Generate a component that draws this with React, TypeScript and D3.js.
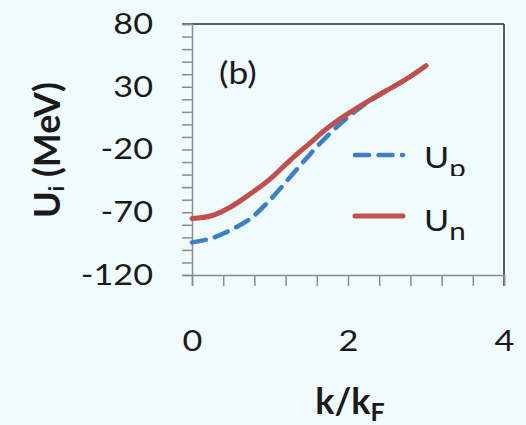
import React, { useEffect, useRef } from 'react';
import * as d3 from 'd3';

// momentum k/kF and single-particle potentials (MeV)
const kValues = [0, 0.25, 0.5, 0.75, 1, 1.25, 1.5, 1.75, 2, 2.25, 2.5, 2.75, 3];
const uNeutron = [-75, -72.8, -65.6, -55.2, -43.6, -29, -15.5, -2.3, 8.6, 18.2, 27.2, 36.2, 46.8];
const uProton = [-94, -90.8, -84, -74.9, -60.2, -42.6, -24.7, -8.3, 5.7, 17.6, 27, 36.2, 46.8];

const xTicks = d3.range(0, 11).map((i) => i * 0.4);
const yTicks = d3.range(-120, 81, 10);
const xLabels = [0, 2, 4];
const yLabels = [80, 30, -20, -70, -120];

const blue = '#3d7fc6';
const red = '#c0504d';

// regular text in the picture is a bit wider than Lato
const stretch = 1.18;

const App = () => {
    const ref = useRef<SVGSVGElement>(null);

    useEffect(() => {
        const svg = d3.select(ref.current);
        svg.selectAll('*').remove();

        const margin = { top: 24, left: 192 };
        const width = 312;
        const height = 251;

        svg.append('rect').attr('width', 526).attr('height', 425).attr('fill', '#effbfd');

        const g = svg.append('g').attr('transform', 'translate(' + margin.left + ',' + margin.top + ')');

        const x = d3.scaleLinear().domain([0, 4]).range([0, width]);
        const y = d3.scaleLinear().domain([-120, 80]).range([height, 0]);

        const font = 'Lato, "Open Sans", sans-serif';

        // frame (top and right)
        g.append('line').attr('x1', -10).attr('x2', width).attr('y1', 0).attr('y2', 0)
            .attr('stroke', '#2a2a2a').attr('stroke-width', 1.5);
        g.append('line').attr('x1', width).attr('x2', width).attr('y1', 0).attr('y2', height + 11)
            .attr('stroke', '#2a2a2a').attr('stroke-width', 1.5);

        const yAxis = g.append('g')
            .call(d3.axisLeft(y).tickValues(yTicks).tickSize(10).tickPadding(29)
                .tickFormat((d: any) => (yLabels.indexOf(d) >= 0 ? String(d) : '')));
        const xAxis = g.append('g').attr('transform', 'translate(0,' + height + ')')
            .call(d3.axisBottom(x).tickValues(xTicks).tickSize(11).tickPadding(44)
                .tickFormat((d: any) => {
                    const r = Math.round(d);
                    return Math.abs(d - r) < 1e-6 && xLabels.indexOf(r) >= 0 ? String(r) : '';
                }));

        [yAxis, xAxis].forEach((a) => {
            a.select('.domain').attr('stroke', '#8c8c8c').attr('stroke-width', 1.5);
            a.selectAll('.tick line').attr('stroke', '#8c8c8c').attr('stroke-width', 1.5);
            a.selectAll('.tick text').attr('fill', '#1a1a1a').style('font-family', font).style('font-size', '29px')
                .attr('x', function (this: any) { return (+this.getAttribute('x') || 0) / stretch; })
                .attr('transform', 'scale(' + stretch + ',1)');
        });

        const line = d3.line<number>()
            .x((d, i) => x(kValues[i]))
            .y((d) => y(d))
            .curve(d3.curveCatmullRom.alpha(0.5));

        g.append('path').datum(uProton).attr('d', line as any)
            .attr('fill', 'none').attr('stroke', blue).attr('stroke-width', 4.5)
            .attr('stroke-dasharray', '14,9.5').attr('stroke-linecap', 'round');
        g.append('path').datum(uNeutron).attr('d', line as any)
            .attr('fill', 'none').attr('stroke', red).attr('stroke-width', 5)
            .attr('stroke-linecap', 'round');

        // panel label
        svg.append('text').attr('transform', 'translate(219,84) scale(' + stretch + ',1)').text('(b)')
            .style('font-family', font).style('font-size', '30px').attr('fill', '#1a1a1a');

        // legend
        const clip = svg.append('defs').append('clipPath').attr('id', 'legclip');
        clip.append('rect').attr('x', 400).attr('y', 130).attr('width', 100).attr('height', 46);

        const legend = [
            { sub: 'p', color: blue, dash: '14,9.5', y: 155, base: 168, clip: true },
            { sub: 'n', color: red, dash: null, y: 216, base: 231, clip: false }
        ];
        const lg = svg.selectAll('.legend').data(legend).enter().append('g').attr('class', 'legend');
        lg.append('line').attr('x1', 355).attr('x2', 403)
            .attr('y1', (d: any) => d.y).attr('y2', (d: any) => d.y)
            .attr('stroke', (d: any) => d.color).attr('stroke-width', (d: any) => (d.dash ? 4.5 : 5))
            .attr('stroke-dasharray', (d: any) => d.dash).attr('stroke-linecap', 'round');
        const lt = lg.append('g').attr('clip-path', (d: any) => (d.clip ? 'url(#legclip)' : null))
            .append('text')
            .attr('transform', (d: any) => 'translate(424,' + d.base + ') scale(' + stretch + ',1)')
            .style('font-family', font).style('font-size', '29px').attr('fill', '#1a1a1a');
        lt.append('tspan').text('U');
        lt.append('tspan').attr('dy', 9).style('font-size', '25px').text((d: any) => d.sub);

        // axis titles
        const xt = svg.append('text').attr('x', 350).attr('y', 414).attr('text-anchor', 'middle')
            .style('font-family', font).style('font-size', '36px').style('font-weight', 'bold').attr('fill', '#1a1a1a');
        xt.append('tspan').text('k/k');
        xt.append('tspan').attr('dy', 7).style('font-size', '25px').text('F');

        const yt = svg.append('text').attr('transform', 'translate(60,150) rotate(-90)').attr('text-anchor', 'middle')
            .style('font-family', font).style('font-size', '36px').style('font-weight', 'bold').attr('fill', '#1a1a1a');
        yt.append('tspan').text('U');
        yt.append('tspan').attr('dy', 4).style('font-size', '21px').text('i');
        yt.append('tspan').attr('dy', -4).text(' (MeV)');
    }, []);

    return <svg ref={ref} width={526} height={425} style={{ position: 'absolute', left: 0, top: 0 }} />;
};

export default App;
